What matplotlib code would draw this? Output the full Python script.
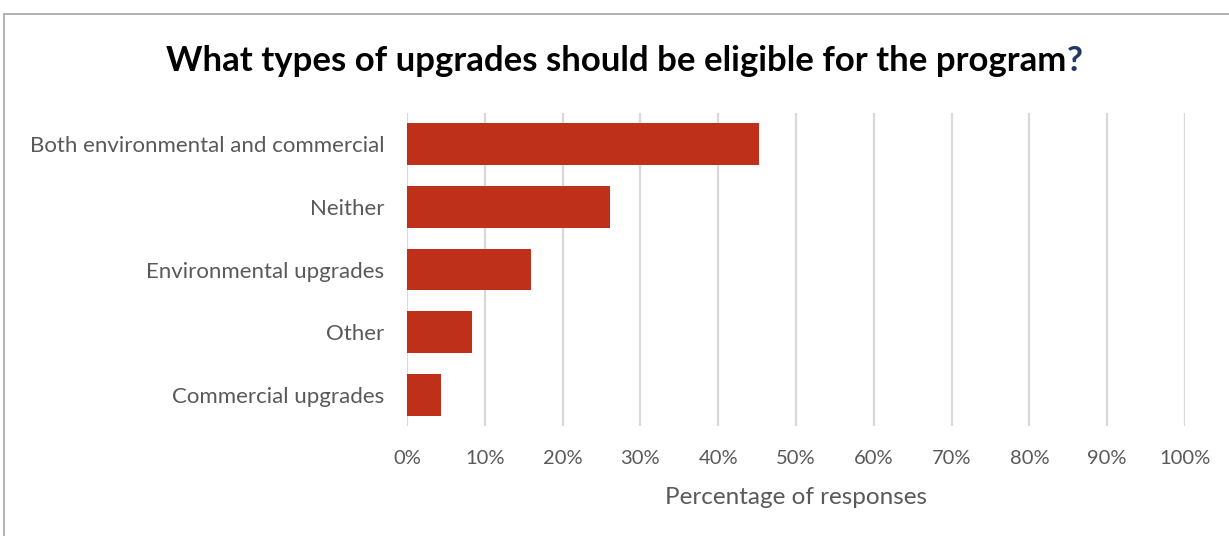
import matplotlib.pyplot as plt
from matplotlib.patches import Rectangle
from matplotlib.ticker import PercentFormatter

categories = ["Both environmental and commercial", "Neither", "Environmental upgrades",
              "Other", "Commercial upgrades"]
shares = [45.2, 26.1, 15.9, 8.4, 4.4]
ticks = list(range(0, 101, 10))

BAR = "#BE3019"
GREY = "#595959"


def main():
    plt.rcParams["font.family"] = ["Lato", "DejaVu Sans"]
    fig = plt.figure(figsize=(12.29, 5.36), dpi=100)
    ax = fig.add_axes([407 / 1229, 1 - 426 / 536, (1185 - 407) / 1229, (426 - 113) / 536])

    y = range(len(categories))
    ax.barh(y, shares, height=0.67, color=BAR, zorder=3)
    ax.set_ylim(len(categories) - 0.5, -0.5)
    ax.set_yticks(list(y))
    ax.set_yticklabels(categories, fontsize=16, color=GREY)

    ax.set_xlim(0, 100)
    ax.set_xticks(ticks)
    ax.xaxis.set_major_formatter(PercentFormatter(decimals=0))
    ax.tick_params(axis="x", labelsize=14.5, labelcolor=GREY, length=0, pad=17)
    ax.tick_params(axis="y", length=0, pad=16.5)
    ax.grid(axis="x", color="#D9D9D9", linewidth=1.6, zorder=0)
    for s in ax.spines.values():
        s.set_visible(False)
    ax.set_xlabel("Percentage of responses", fontsize=17.5, color=GREY, labelpad=14.5)

    # chart frame, clipped by the image edge on the right and bottom
    fig.patches.append(Rectangle((4 / 1229, -0.05), 1.2, 1 - 14 / 536 + 0.05,
                                 transform=fig.transFigure, fill=False,
                                 edgecolor="#A6A6A6", linewidth=1.2))

    # title: black text followed by a navy question mark
    t = fig.text(166 / 1229, 1 - 61 / 536, "What types of upgrades should be eligible for the program",
                 fontsize=25, fontweight="bold", color="black", ha="left", va="center")
    fig.canvas.draw()
    bb = t.get_window_extent()
    fig.text(bb.x1 / fig.bbox.width, 1 - 61 / 536, "?", fontsize=25, fontweight="bold",
             color="#1F3864", ha="left", va="center")

    fig.savefig("out.png", dpi=100)


if __name__ == "__main__":
    main()
